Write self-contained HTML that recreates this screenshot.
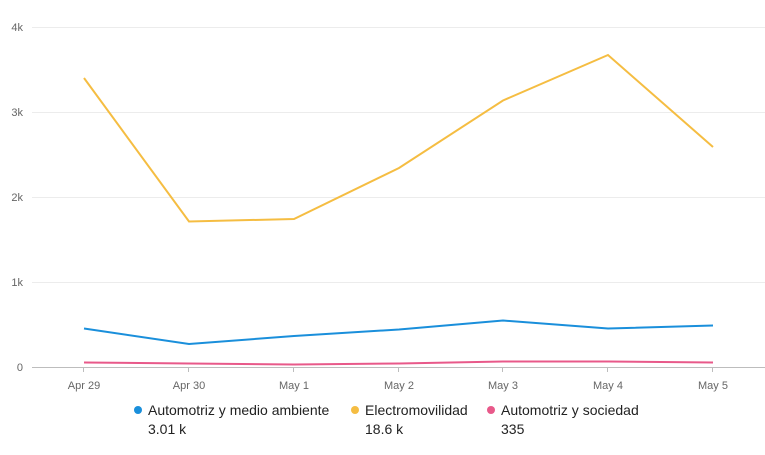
<!DOCTYPE html>
<html><head><meta charset="utf-8"><style>
html,body{margin:0;padding:0;background:#fff;}
svg{display:block;font-family:"Liberation Sans",Arial,sans-serif;}
</style></head><body>
<svg width="765" height="455" viewBox="0 0 765 455">
<g stroke="#ececec" stroke-width="1">
<line x1="32" y1="27.5" x2="765" y2="27.5"/>
<line x1="32" y1="112.5" x2="765" y2="112.5"/>
<line x1="32" y1="197.5" x2="765" y2="197.5"/>
<line x1="32" y1="282.5" x2="765" y2="282.5"/>
</g>
<line x1="32" y1="367.5" x2="765" y2="367.5" stroke="#bdbdbd"/>
<g stroke="#bdbdbd">
<line x1="83.5" y1="367" x2="83.5" y2="372"/>
<line x1="188.5" y1="367" x2="188.5" y2="372"/>
<line x1="293.5" y1="367" x2="293.5" y2="372"/>
<line x1="398.5" y1="367" x2="398.5" y2="372"/>
<line x1="502.5" y1="367" x2="502.5" y2="372"/>
<line x1="607.5" y1="367" x2="607.5" y2="372"/>
<line x1="712.5" y1="367" x2="712.5" y2="372"/>
</g>
<g fill="#666" font-size="11" text-anchor="end">
<text x="23" y="31">4k</text>
<text x="23" y="116">3k</text>
<text x="23" y="201">2k</text>
<text x="23" y="286">1k</text>
<text x="23" y="371">0</text>
</g>
<g fill="#666" font-size="11" text-anchor="middle">
<text x="84" y="389">Apr 29</text>
<text x="189" y="389">Apr 30</text>
<text x="294" y="389">May 1</text>
<text x="399" y="389">May 2</text>
<text x="503" y="389">May 3</text>
<text x="608" y="389">May 4</text>
<text x="713" y="389">May 5</text>
</g>
<polyline fill="none" stroke="#f5bd42" stroke-width="2" points="84,78 189,221.5 294,219 399,168 503,100.5 608,55 713,147"/>
<polyline fill="none" stroke="#1a8fdb" stroke-width="2" points="84,328.5 189,344 294,336 399,329.5 503,320.5 608,328.5 713,325.5"/>
<polyline fill="none" stroke="#e8598a" stroke-width="2" points="84,362.5 189,363.5 294,364.5 399,363.5 503,361.5 608,361.5 713,362.5"/>
<g font-size="14" fill="#222">
<circle cx="138" cy="410" r="4" fill="#1a8fdb"/>
<text x="148" y="415">Automotriz y medio ambiente</text>
<text x="148" y="434">3.01 k</text>
<circle cx="355" cy="410" r="4" fill="#f5bd42"/>
<text x="365" y="415">Electromovilidad</text>
<text x="365" y="434">18.6 k</text>
<circle cx="491" cy="410" r="4" fill="#e8598a"/>
<text x="501" y="415">Automotriz y sociedad</text>
<text x="501" y="434">335</text>
</g>
</svg>
</body></html>
